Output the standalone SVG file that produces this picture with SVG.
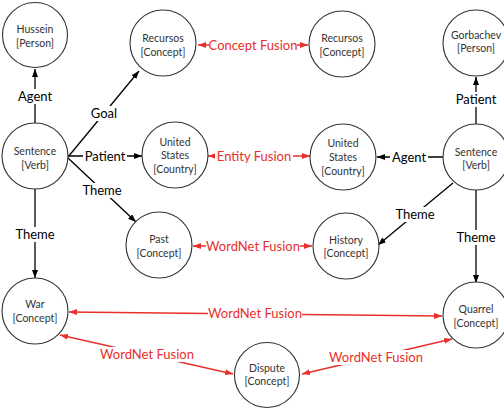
<svg xmlns="http://www.w3.org/2000/svg" width="504" height="410" viewBox="0 0 504 410">
<style>
.n{fill:#fff;stroke:#333;stroke-width:1.1}
.nt{font-family:Lato,"Liberation Sans",sans-serif;font-size:10.5px;fill:#333;text-anchor:middle}
.e{stroke:#000;stroke-width:1.3;fill:none}
.r{stroke:#e8302a;stroke-width:1.3;fill:none}
.el{font-family:Lato,"Liberation Sans",sans-serif;font-size:13px;fill:#000;text-anchor:middle}
.rl{font-family:Lato,"Liberation Sans",sans-serif;font-size:13px;fill:#e8302a;text-anchor:middle}
.bg{fill:#fff}
</style>
<defs>
<marker id="ab" viewBox="0 0 8 6" refX="8" refY="3" markerWidth="8" markerHeight="6" markerUnits="userSpaceOnUse" orient="auto"><path d="M0,0 L8,3 L0,6 z" fill="#000"/></marker>
<marker id="ar" viewBox="0 0 8 6" refX="8" refY="3" markerWidth="8" markerHeight="6" markerUnits="userSpaceOnUse" orient="auto-start-reverse"><path d="M0,0 L8,3 L0,6 z" fill="#e8302a"/></marker>
</defs>
<g id="connectors">
<line class="e" x1="35" y1="123" x2="35" y2="69" marker-end="url(#ab)"/>
<line class="e" x1="68" y1="157" x2="139" y2="71" marker-end="url(#ab)"/>
<line class="e" x1="68" y1="156" x2="142" y2="156" marker-end="url(#ab)"/>
<line class="e" x1="68" y1="158" x2="136" y2="222" marker-end="url(#ab)"/>
<line class="e" x1="35" y1="189" x2="35" y2="278" marker-end="url(#ab)"/>
<line class="e" x1="476" y1="124" x2="476" y2="77" marker-end="url(#ab)"/>
<line class="e" x1="443" y1="157" x2="377" y2="157" marker-end="url(#ab)"/>
<line class="e" x1="453" y1="183" x2="378" y2="245" marker-end="url(#ab)"/>
<line class="e" x1="476" y1="190" x2="476" y2="283" marker-end="url(#ab)"/>
<line class="r" x1="198" y1="45" x2="308" y2="45" marker-start="url(#ar)" marker-end="url(#ar)"/>
<line class="r" x1="208" y1="156" x2="310" y2="156" marker-start="url(#ar)" marker-end="url(#ar)"/>
<line class="r" x1="193" y1="246" x2="312" y2="246" marker-start="url(#ar)" marker-end="url(#ar)"/>
<line class="r" x1="69" y1="312" x2="442" y2="316" marker-start="url(#ar)" marker-end="url(#ar)"/>
<line class="r" x1="60" y1="335" x2="233" y2="374" marker-start="url(#ar)" marker-end="url(#ar)"/>
<line class="r" x1="452" y1="339" x2="302" y2="374" marker-start="url(#ar)" marker-end="url(#ar)"/>
<rect class="bg" x="16" y="89" width="38" height="15"/><text class="el" x="35" y="101">Agent</text>
<rect class="bg" x="89" y="106" width="31" height="15"/><text class="el" x="104" y="118">Goal</text>
<rect class="bg" x="83" y="149" width="44" height="15"/><text class="el" x="105" y="161">Patient</text>
<rect class="bg" x="81" y="183" width="42" height="15"/><text class="el" x="102" y="195">Theme</text>
<rect class="bg" x="14" y="227" width="42" height="15"/><text class="el" x="35" y="239">Theme</text>
<rect class="bg" x="454" y="92" width="44" height="15"/><text class="el" x="476" y="104">Patient</text>
<rect class="bg" x="390" y="150" width="38" height="15"/><text class="el" x="409" y="162">Agent</text>
<rect class="bg" x="394" y="207" width="42" height="15"/><text class="el" x="415" y="219">Theme</text>
<rect class="bg" x="455" y="230" width="42" height="15"/><text class="el" x="476" y="242">Theme</text>
<rect class="bg" x="209" y="38" width="88" height="15"/><text class="rl" x="253" y="50">Concept Fusion</text>
<rect class="bg" x="215" y="149" width="78" height="15"/><text class="rl" x="254" y="161">Entity Fusion</text>
<rect class="bg" x="206" y="239" width="94" height="15"/><text class="rl" x="253" y="251">WordNet Fusion</text>
<rect class="bg" x="208" y="306" width="94" height="15"/><text class="rl" x="255" y="318">WordNet Fusion</text>
<rect class="bg" x="100" y="347" width="94" height="15"/><text class="rl" x="147" y="359">WordNet Fusion</text>
<rect class="bg" x="329" y="350" width="94" height="15"/><text class="rl" x="376" y="362">WordNet Fusion</text>
</g>
<g id="hussein"><circle class="n" cx="35" cy="35" r="32.5"/><text class="nt" x="35" y="32.5">Hussein</text><text class="nt" x="35" y="46.5">[Person]</text></g>
<g id="recursos1"><circle class="n" cx="163" cy="43" r="33"/><text class="nt" x="163" y="41.5">Recursos</text><text class="nt" x="163" y="55.5">[Concept]</text></g>
<g id="recursos2"><circle class="n" cx="342" cy="44" r="33"/><text class="nt" x="342" y="41.5">Recursos</text><text class="nt" x="342" y="55.5">[Concept]</text></g>
<g id="gorbachev"><circle class="n" cx="476" cy="43" r="33"/><text class="nt" x="476" y="39">Gorbachev</text><text class="nt" x="476" y="52">[Person]</text></g>
<g id="sentence1"><circle class="n" cx="35" cy="156" r="33"/><text class="nt" x="35" y="154.5">Sentence</text><text class="nt" x="35" y="168.5">[Verb]</text></g>
<g id="us1"><circle class="n" cx="175" cy="155" r="33"/><text class="nt" x="175" y="145.5">United</text><text class="nt" x="175" y="158.5">States</text><text class="nt" x="175" y="173">[Country]</text></g>
<g id="us2"><circle class="n" cx="343" cy="157" r="33"/><text class="nt" x="343" y="146.5">United</text><text class="nt" x="343" y="160.5">States</text><text class="nt" x="343" y="175">[Country]</text></g>
<g id="sentence2"><circle class="n" cx="476" cy="157" r="33"/><text class="nt" x="476" y="155.5">Sentence</text><text class="nt" x="476" y="168.5">[Verb]</text></g>
<g id="past"><circle class="n" cx="159" cy="245" r="33"/><text class="nt" x="159" y="242.5">Past</text><text class="nt" x="159" y="256.5">[Concept]</text></g>
<g id="history"><circle class="n" cx="346" cy="246" r="33"/><text class="nt" x="346" y="243.5">History</text><text class="nt" x="346" y="256.5">[Concept]</text></g>
<g id="war"><circle class="n" cx="35" cy="311" r="33"/><text class="nt" x="35" y="307.5">War</text><text class="nt" x="35" y="321.5">[Concept]</text></g>
<g id="quarrel"><circle class="n" cx="476" cy="315" r="33"/><text class="nt" x="476" y="312.5">Quarrel</text><text class="nt" x="476" y="326.5">[Concept]</text></g>
<g id="dispute"><circle class="n" cx="267" cy="375" r="32.5"/><text class="nt" x="267" y="371.5">Dispute</text><text class="nt" x="267" y="384.5">[Concept]</text></g>
</svg>
